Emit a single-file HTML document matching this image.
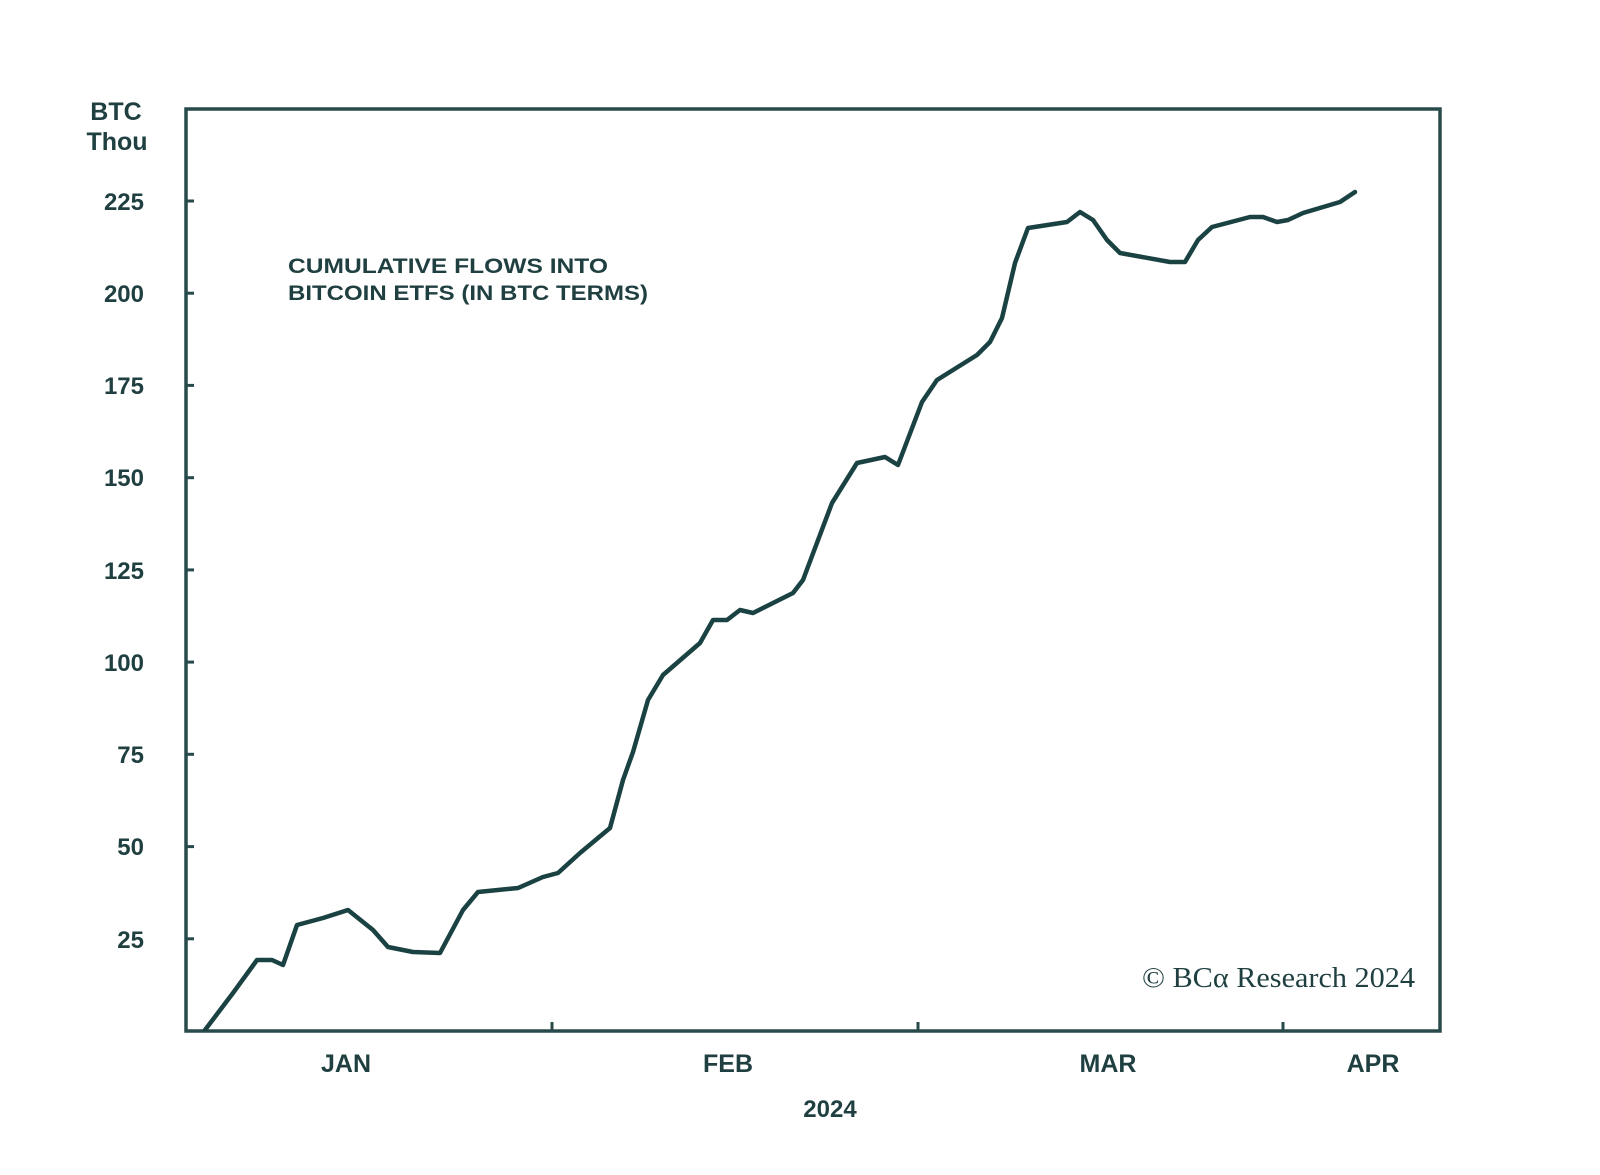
<!DOCTYPE html>
<html>
<head>
<meta charset="utf-8">
<style>
  html,body{margin:0;padding:0;background:#ffffff;}
  svg{display:block;}
</style>
</head>
<body>
<svg width="1600" height="1175" viewBox="0 0 1600 1175" xmlns="http://www.w3.org/2000/svg">
  <rect x="0" y="0" width="1600" height="1175" fill="#ffffff"/>

  <!-- frame -->
  <rect x="186" y="109" width="1254" height="922" fill="none" stroke="#284a4b" stroke-width="3.5"/>

  <!-- y ticks -->
  <g stroke="#284a4b" stroke-width="3">
    <line x1="186" y1="938.8" x2="194" y2="938.8"/>
    <line x1="186" y1="846.6" x2="194" y2="846.6"/>
    <line x1="186" y1="754.3" x2="194" y2="754.3"/>
    <line x1="186" y1="662.1" x2="194" y2="662.1"/>
    <line x1="186" y1="569.9" x2="194" y2="569.9"/>
    <line x1="186" y1="477.7" x2="194" y2="477.7"/>
    <line x1="186" y1="385.4" x2="194" y2="385.4"/>
    <line x1="186" y1="293.2" x2="194" y2="293.2"/>
    <line x1="186" y1="201" x2="194" y2="201"/>
    <!-- x ticks -->
    <line x1="552" y1="1031" x2="552" y2="1022"/>
    <line x1="918" y1="1031" x2="918" y2="1022"/>
    <line x1="1283" y1="1031" x2="1283" y2="1022"/>
  </g>

  <!-- y labels -->
  <g font-family="'Liberation Sans', Arial, sans-serif" font-weight="bold" font-size="24" fill="#1f3f40" text-anchor="end">
    <text x="144" y="210">225</text>
    <text x="144" y="302">200</text>
    <text x="144" y="394">175</text>
    <text x="144" y="486">150</text>
    <text x="144" y="579">125</text>
    <text x="144" y="671">100</text>
    <text x="144" y="763">75</text>
    <text x="144" y="855">50</text>
    <text x="144" y="948">25</text>
  </g>
  <g font-family="'Liberation Sans', Arial, sans-serif" font-weight="bold" font-size="25" fill="#1f3f40" text-anchor="middle">
    <text x="116" y="120">BTC</text>
    <text x="117" y="150">Thou</text>
  </g>

  <!-- x labels -->
  <g font-family="'Liberation Sans', Arial, sans-serif" font-weight="bold" font-size="25" fill="#1f3f40" text-anchor="middle">
    <text x="346" y="1072">JAN</text>
    <text x="728" y="1072">FEB</text>
    <text x="1108" y="1072">MAR</text>
    <text x="1373" y="1072">APR</text>
    <text x="830" y="1117" font-size="24">2024</text>
  </g>

  <!-- title -->
  <g font-family="'Liberation Sans', Arial, sans-serif" font-weight="bold" font-size="21" fill="#1f3f40">
    <text x="288" y="273" textLength="320" lengthAdjust="spacingAndGlyphs">CUMULATIVE FLOWS INTO</text>
    <text x="288" y="300" textLength="360" lengthAdjust="spacingAndGlyphs">BITCOIN ETFS (IN BTC TERMS)</text>
  </g>

  <!-- copyright -->
  <text x="1142" y="987" font-family="'Liberation Serif', 'Times New Roman', serif" font-size="28" fill="#1f3f40" textLength="273" lengthAdjust="spacingAndGlyphs">© BCα Research 2024</text>

  <!-- series -->
  <clipPath id="plot"><rect x="186" y="109" width="1254" height="922"/></clipPath>
  <polyline clip-path="url(#plot)" fill="none" stroke="#1b4242" stroke-width="4.5" stroke-linejoin="round" stroke-linecap="round"
    points="202,1036 205,1030 233,993 257,960 272,960 283,965 297,925 323,918 348,910 373,930 388,947 413,952 440,953 463,910 478,892 518,888 543,877 558,873 580,853 610,828 623,780 633,752 648,700 663,675 700,643 713,620 727,620 740,610 753,613 793,593 803,580 832,503 857,463 885,457 898,465 922,402 937,380 977,355 990,342 1002,318 1015,263 1028,228 1067,222 1080,212 1093,220 1107,240 1120,253 1170,262 1185,262 1198,240 1212,227 1250,217 1263,217 1277,222 1288,220 1303,213 1340,202 1355,192"/>
</svg>
</body>
</html>
